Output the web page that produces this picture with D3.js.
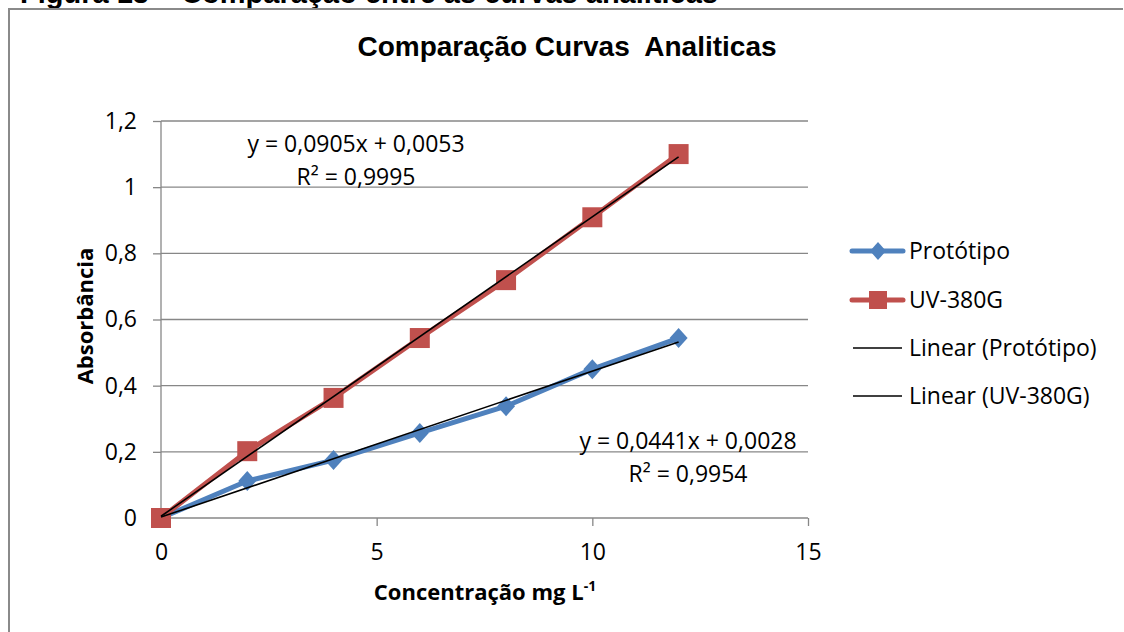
<!DOCTYPE html>
<html><head><meta charset="utf-8">
<script src="https://cdn.jsdelivr.net/npm/d3@7"></script>
<style>
html,body{margin:0;padding:0;background:#fff;}
svg{display:block;}
text{font-family:"Open Sans",Lato,sans-serif;}
</style></head>
<body>
<script>
const xValues = [0, 2, 4, 6, 8, 10, 12];
const prototipo = [0, 0.112, 0.175, 0.257, 0.338, 0.45, 0.544];
const uv380g = [0, 0.202, 0.363, 0.544, 0.719, 0.909, 1.10];
const trendProto = {slope: 0.0441, intercept: 0.0028};
const trendUV = {slope: 0.0905, intercept: 0.0053};
const xTicks = [0, 5, 10, 15];
const yTicks = [0, 0.2, 0.4, 0.6, 0.8, 1, 1.2];
const legendLabels = ["Protótipo", "UV-380G", "Linear (Protótipo)", "Linear (UV-380G)"];

const W = 1124, H = 632;
const FS = 23;
const svg = d3.select("body").append("svg").attr("width", W).attr("height", H);

// figure caption (clipped at top, as in the source)
svg.append("text").attr("x", 20).attr("y", 3)
  .attr("font-weight", "bold").attr("font-size", 29).attr("fill", "#000")
  .style("font-family", "'Liberation Sans', Arial, sans-serif")
  .text("Figura 13 – Comparação entre as curvas analíticas");

// chart frame
svg.append("path").attr("d", `M9,${H} V9 H1123`).attr("fill", "none").attr("stroke", "#8a8a8a").attr("stroke-width", 2);

const x = d3.scaleLinear().domain([0, 15]).range([161, 808]);
const y = d3.scaleLinear().domain([0, 1.2]).range([518, 121]);
const fmt = d => String(d).replace(".", ",");

// grid
svg.append("g").selectAll("line").data(yTicks.filter(d => d > 0)).join("line")
  .attr("x1", x(0)).attr("x2", x(15)).attr("y1", d => y(d)).attr("y2", d => y(d))
  .attr("stroke", "#878787").attr("stroke-width", 1.3);

// axes
const yAxis = svg.append("g").attr("transform", `translate(${x(0)},0)`)
  .call(d3.axisLeft(y).tickValues(yTicks).tickFormat(fmt).tickSize(8).tickPadding(16));
const xAxis = svg.append("g").attr("transform", `translate(0,${y(0)})`)
  .call(d3.axisBottom(x).tickValues(xTicks).tickFormat(fmt).tickSize(8).tickPadding(6));
[xAxis, yAxis].forEach(g => {
  g.attr("font-family", null).attr("font-size", null);
  g.select(".domain").attr("stroke", "#878787").attr("stroke-width", 1.3);
  g.selectAll(".tick line").attr("stroke", "#878787").attr("stroke-width", 1.3);
  g.selectAll("text").attr("font-size", FS).attr("fill", "#000");
});
xAxis.select(".domain").attr("d", `M${x(0)},0H${x(15)}`);
xAxis.selectAll(".tick text").attr("y", 42).attr("dy", 0);
yAxis.select(".domain").attr("d", `M0,${y(0)}V${y(1.2)}`);

const line = d3.line().x(d => x(d[0])).y(d => y(d[1]));
const protoData = xValues.map((v, i) => [v, prototipo[i]]);
const uvData = xValues.map((v, i) => [v, uv380g[i]]);

const blue = "#4f81bd", red = "#c0504d";

svg.append("path").datum(protoData).attr("d", line).attr("fill", "none").attr("stroke", blue).attr("stroke-width", 5).attr("stroke-linejoin", "round");
svg.append("path").datum(uvData).attr("d", line).attr("fill", "none").attr("stroke", red).attr("stroke-width", 5).attr("stroke-linejoin", "round");

// markers
svg.append("g").selectAll("path").data(protoData).join("path")
  .attr("transform", d => `translate(${x(d[0])},${y(d[1])})`)
  .attr("d", "M0,-10 L9,0 L0,10 L-9,0 Z").attr("fill", blue);
svg.append("g").selectAll("rect").data(uvData).join("rect")
  .attr("x", d => x(d[0]) - 10).attr("y", d => y(d[1]) - 10).attr("width", 20).attr("height", 20).attr("fill", red);

// trendlines
const tl = t => [[0, t.intercept], [12, t.slope * 12 + t.intercept]];
svg.append("path").datum(tl(trendProto)).attr("d", line).attr("fill", "none").attr("stroke", "#000").attr("stroke-width", 1.6);
svg.append("path").datum(tl(trendUV)).attr("d", line).attr("fill", "none").attr("stroke", "#000").attr("stroke-width", 1.6);

// equation labels
const eq = (t) => `y = ${fmt(t.slope.toFixed(4))}x + ${fmt(t.intercept.toFixed(4))}`;
const addEq = (cx, cy, t, r2) => {
  const g = svg.append("g");
  g.append("text").attr("x", cx).attr("y", cy).attr("text-anchor", "middle").attr("font-size", FS).text(eq(t));
  g.append("text").attr("x", cx).attr("y", cy + 33).attr("text-anchor", "middle").attr("font-size", FS).text("R² = " + r2);
};
addEq(356, 152, trendUV, "0,9995");
addEq(688, 449, trendProto, "0,9954");

// title
svg.append("text").attr("x", 567).attr("y", 56).attr("text-anchor", "middle")
  .attr("font-size", 28).attr("font-weight", "bold").style("white-space", "pre")
  .style("font-family", "'Liberation Sans', Arial, sans-serif")
  .text("Comparação Curvas  Analiticas");

// axis titles
const xt = svg.append("text").attr("x", 485).attr("y", 600).attr("text-anchor", "middle").attr("font-size", 22).attr("font-weight", "bold");
xt.append("tspan").text("Concentração mg L");
xt.append("tspan").attr("font-size", 14).attr("dy", -9).text("-1");
svg.append("text").attr("transform", "translate(93,316) rotate(-90)").attr("text-anchor", "middle")
  .attr("font-size", 22).attr("font-weight", "bold").text("Absorbância");

// legend
const ly = [251, 300, 348, 396];
const lg = svg.append("g");
legendLabels.forEach((lab, i) => {
  const yy = ly[i];
  if (i === 0) {
    lg.append("line").attr("x1", 852).attr("x2", 903).attr("y1", yy).attr("y2", yy).attr("stroke", blue).attr("stroke-width", 5).attr("stroke-linecap", "round");
    lg.append("path").attr("transform", `translate(878,${yy})`).attr("d", "M0,-9 L8,0 L0,9 L-8,0 Z").attr("fill", blue);
  } else if (i === 1) {
    lg.append("line").attr("x1", 852).attr("x2", 903).attr("y1", yy).attr("y2", yy).attr("stroke", red).attr("stroke-width", 5).attr("stroke-linecap", "round");
    lg.append("rect").attr("x", 869).attr("y", yy - 9).attr("width", 18).attr("height", 18).attr("fill", red);
  } else {
    lg.append("line").attr("x1", 853).attr("x2", 902).attr("y1", yy).attr("y2", yy).attr("stroke", "#000").attr("stroke-width", 1.6);
  }
  lg.append("text").attr("x", 909).attr("y", yy).attr("dy", "0.35em").attr("font-size", FS).text(lab);
});
</script>
</body></html>
